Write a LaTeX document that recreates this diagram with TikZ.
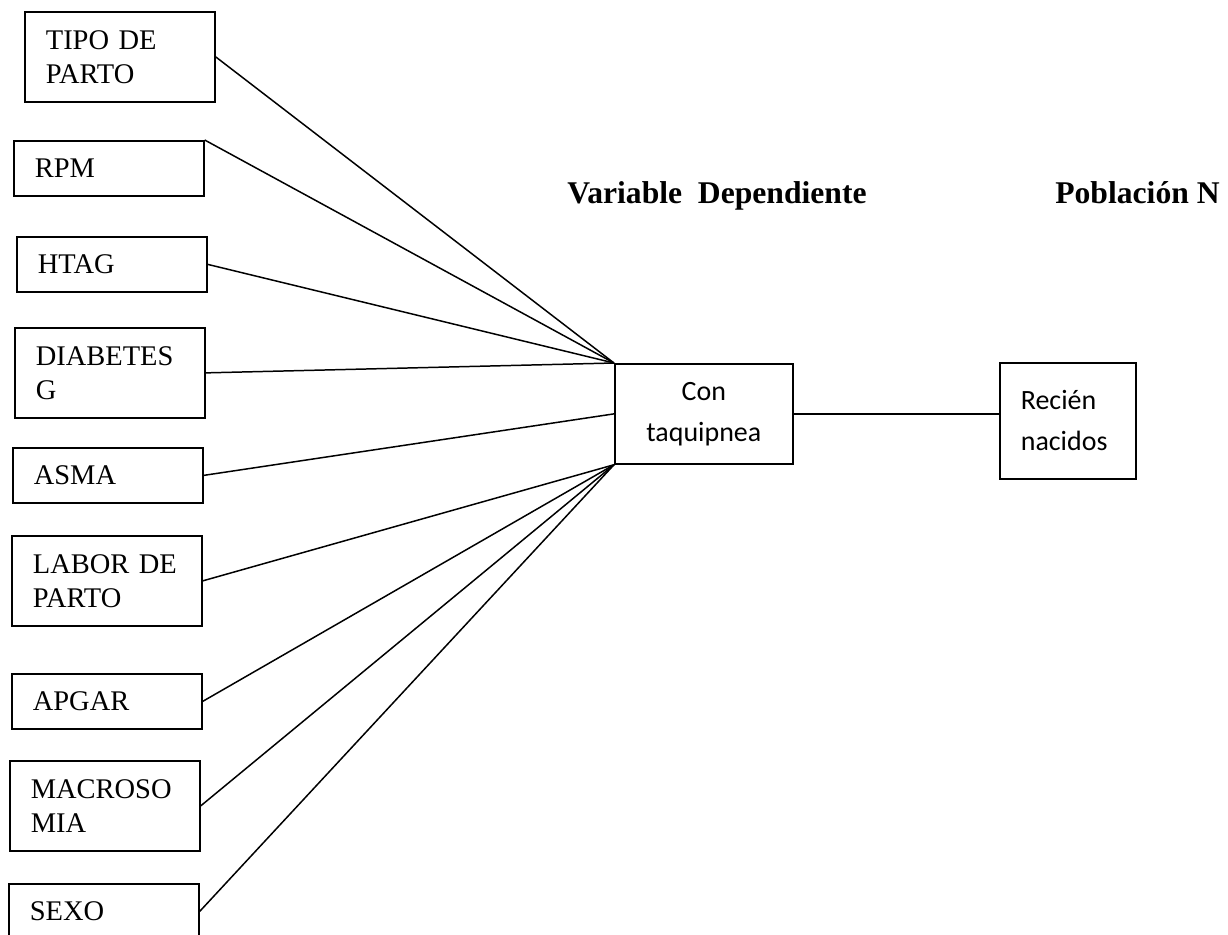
\documentclass[tikz,border=0pt]{standalone}
\usepackage{fontspec}
\setmainfont{Liberation Serif}
\newfontfamily\calibrifont{Carlito}
\usetikzlibrary{positioning}

\begin{document}
\begin{tikzpicture}[
    x=0.02cm, y=-0.02cm,
    factor/.style={draw, rectangle, line width=1pt, anchor=north west, text width=2.96cm, align=left, inner xsep=0.42cm, inner ysep=0pt, minimum height=1.1cm, font=\fontsize{16.2}{19.4}\selectfont},
    twoline/.style={minimum height=1.8cm},
    result/.style={draw, rectangle, line width=1pt, anchor=north west, inner ysep=0pt, font=\calibrifont\fontsize{15.9}{23.3}\selectfont},
    heading/.style={anchor=base west, inner sep=0pt, font=\bfseries\fontsize{18}{20}\selectfont},
    link/.style={line width=0.85pt}
]
\useasboundingbox (0,0) rectangle (1228,934);

\node[factor, twoline] (tipo) at (24,11) {TIPO DE\\PARTO};
\node[factor] (rpm) at (13,140) {RPM};
\node[factor] (htag) at (16,236) {HTAG};
\node[factor, twoline] (diab) at (14,327) {DIABETES\\G};
\node[factor] (asma) at (12,447) {ASMA};
\node[factor, twoline] (labor) at (11,535) {LABOR DE\\PARTO};
\node[factor] (apgar) at (11,673) {APGAR};
\node[factor, twoline] (macro) at (9,760) {MACROSO\\MIA};
\node[factor] (sexo) at (8,883) {SEXO};

\node[result, minimum width=3.56cm, minimum height=2cm, align=center, inner xsep=0pt] (ct) at (614,363) {Con\\taquipnea};
\node[result, text width=1.88cm, minimum height=2.32cm, align=left, inner xsep=0.42cm] (rn) at (999,362) {Recién\\nacidos};

\node[heading] (vd) at (567,203) {Variable\ \ Dependiente};
\node[heading] (pn) at (1055,203) {Población N};

\draw[link] (tipo.east) -- (ct.north west);
\draw[link] (rpm.north east) -- (ct.north west);
\draw[link] (htag.east) -- (ct.north west);
\draw[link] (diab.east) -- (ct.north west);
\draw[link] (asma.east) -- (ct.west);
\draw[link] (labor.east) -- (ct.south west);
\draw[link] (apgar.east) -- (ct.south west);
\draw[link] (macro.east) -- (ct.south west);
\draw[link] (sexo.east) -- (ct.south west);
\draw[link] (ct.east) -- (ct.east -| rn.west);

\end{tikzpicture}
\end{document}
